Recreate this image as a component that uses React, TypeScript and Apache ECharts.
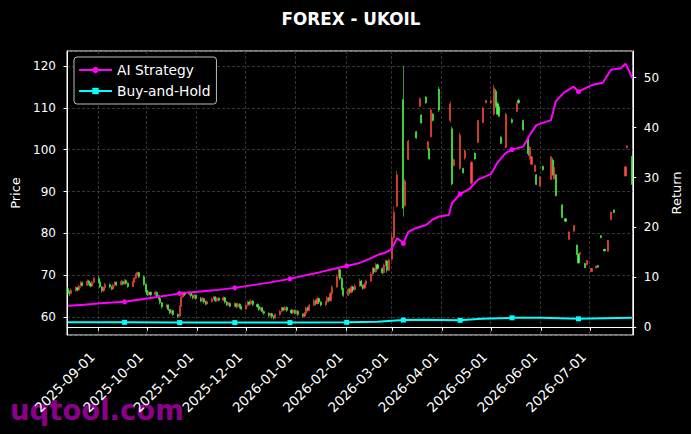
import React, { useEffect, useRef } from "react";
import * as echarts from "echarts";

const START = "2025-08-13";
const DAY_COUNT = 349;
const FONT = "DejaVu Sans";
const UP = "#ff4a3d";
const DOWN = "#4dff4d";

// [date, open, close, low, high]
const candles: [string, number, number, number, number][] = [
  ["2025-08-13", 66.8, 66.0, 65.4, 67.2], ["2025-08-14", 66.0, 65.6, 65.0, 66.4], ["2025-08-15", 65.6, 66.4, 65.3, 66.8],
  ["2025-08-18", 66.3, 67.0, 66.0, 67.4], ["2025-08-19", 67.0, 66.5, 66.1, 67.3], ["2025-08-20", 66.5, 67.4, 66.3, 67.8],
  ["2025-08-21", 67.4, 68.2, 67.0, 68.6], ["2025-08-22", 68.2, 67.6, 67.3, 68.5], ["2025-08-25", 67.6, 68.6, 67.4, 69.0],
  ["2025-08-26", 68.6, 68.0, 67.6, 68.9], ["2025-08-27", 68.0, 67.4, 67.1, 68.3], ["2025-08-28", 67.4, 68.3, 67.2, 68.7],
  ["2025-08-29", 68.3, 69.2, 68.0, 69.6], ["2025-09-01", 69.2, 68.4, 68.1, 69.8], ["2025-09-02", 68.4, 67.2, 66.9, 68.6],
  ["2025-09-03", 67.2, 66.3, 65.8, 67.4], ["2025-09-04", 66.3, 67.0, 66.0, 67.3], ["2025-09-05", 67.0, 67.8, 66.8, 68.2],
  ["2025-09-08", 67.8, 67.2, 66.8, 68.0], ["2025-09-09", 67.2, 66.7, 66.4, 67.5], ["2025-09-10", 66.7, 67.6, 66.5, 68.0],
  ["2025-09-11", 67.6, 68.3, 67.3, 68.6], ["2025-09-12", 68.3, 67.7, 67.4, 68.5], ["2025-09-15", 67.7, 68.5, 67.5, 68.9],
  ["2025-09-16", 68.5, 67.9, 67.6, 68.7], ["2025-09-17", 67.9, 68.7, 67.7, 69.1], ["2025-09-18", 68.7, 68.1, 67.8, 69.0],
  ["2025-09-19", 68.1, 67.3, 67.0, 68.3], ["2025-09-22", 67.3, 68.4, 67.2, 68.7], ["2025-09-23", 68.4, 69.3, 68.2, 69.6],
  ["2025-09-24", 69.3, 70.2, 69.0, 70.5], ["2025-09-25", 70.2, 70.6, 69.8, 70.9], ["2025-09-26", 70.6, 69.6, 69.3, 70.8],
  ["2025-09-29", 69.6, 67.8, 67.5, 69.9], ["2025-09-30", 67.8, 66.2, 65.9, 68.0], ["2025-10-01", 66.2, 65.4, 65.0, 66.5],
  ["2025-10-02", 65.4, 65.9, 65.1, 66.2], ["2025-10-03", 65.9, 65.3, 64.9, 66.1], ["2025-10-06", 65.3, 65.9, 65.0, 66.3],
  ["2025-10-07", 65.9, 65.1, 64.7, 66.1], ["2025-10-08", 65.1, 64.4, 64.0, 65.3], ["2025-10-09", 64.4, 63.4, 63.0, 64.6],
  ["2025-10-10", 63.4, 62.4, 62.0, 63.6], ["2025-10-13", 62.4, 62.9, 62.0, 63.2], ["2025-10-14", 62.9, 61.8, 61.4, 63.0],
  ["2025-10-15", 61.8, 61.0, 60.7, 62.0], ["2025-10-16", 61.0, 61.5, 60.6, 61.8], ["2025-10-17", 61.5, 60.6, 60.3, 61.7],
  ["2025-10-20", 60.6, 60.2, 59.8, 60.9], ["2025-10-21", 60.2, 62.6, 60.0, 62.8], ["2025-10-22", 62.6, 64.8, 62.4, 65.2],
  ["2025-10-23", 64.8, 65.8, 64.6, 66.2], ["2025-10-24", 65.8, 65.4, 65.0, 66.1], ["2025-10-27", 65.4, 65.9, 65.1, 66.2],
  ["2025-10-28", 65.9, 65.1, 64.7, 66.0], ["2025-10-29", 65.1, 64.6, 64.2, 65.4], ["2025-10-30", 64.6, 65.2, 64.3, 65.5],
  ["2025-10-31", 65.2, 64.5, 64.1, 65.4], ["2025-11-03", 64.5, 63.8, 63.5, 64.8], ["2025-11-04", 63.8, 64.4, 63.5, 64.8],
  ["2025-11-05", 64.4, 63.6, 63.2, 64.6], ["2025-11-06", 63.6, 63.1, 62.8, 63.9], ["2025-11-07", 63.1, 63.7, 62.9, 64.0],
  ["2025-11-10", 63.7, 64.3, 63.4, 64.7], ["2025-11-11", 64.3, 64.8, 64.0, 65.1], ["2025-11-12", 64.8, 63.9, 63.6, 65.0],
  ["2025-11-13", 63.9, 64.5, 63.6, 64.8], ["2025-11-14", 64.5, 64.0, 63.7, 64.7], ["2025-11-17", 64.0, 64.6, 63.8, 64.9],
  ["2025-11-18", 64.6, 63.6, 63.2, 64.8], ["2025-11-19", 63.6, 62.9, 62.6, 63.8], ["2025-11-20", 62.9, 63.3, 62.6, 63.6],
  ["2025-11-21", 63.3, 62.6, 62.3, 63.5], ["2025-11-24", 62.6, 63.2, 62.3, 63.5], ["2025-11-25", 63.2, 62.5, 62.1, 63.4],
  ["2025-11-26", 62.5, 63.1, 62.2, 63.4], ["2025-11-27", 63.1, 62.4, 62.0, 63.3], ["2025-11-28", 62.4, 61.9, 61.6, 62.7],
  ["2025-12-01", 61.9, 62.8, 61.7, 63.1], ["2025-12-02", 62.8, 63.6, 62.5, 64.0], ["2025-12-03", 63.6, 63.1, 62.7, 63.9],
  ["2025-12-04", 63.1, 63.8, 62.9, 64.2], ["2025-12-05", 63.8, 63.0, 62.6, 64.0], ["2025-12-08", 63.0, 62.5, 62.1, 63.3],
  ["2025-12-09", 62.5, 61.8, 61.5, 62.7], ["2025-12-10", 61.8, 62.2, 61.4, 62.5], ["2025-12-11", 62.2, 61.3, 60.9, 62.4],
  ["2025-12-12", 61.3, 60.9, 60.5, 61.6], ["2025-12-15", 60.9, 60.4, 60.0, 61.1], ["2025-12-16", 60.4, 60.8, 59.8, 61.0],
  ["2025-12-17", 60.8, 60.1, 59.6, 61.0], ["2025-12-18", 60.1, 59.8, 59.4, 60.4], ["2025-12-19", 59.8, 60.6, 59.5, 60.9],
  ["2025-12-22", 60.6, 61.4, 60.3, 61.7], ["2025-12-23", 61.4, 62.2, 61.1, 62.5], ["2025-12-24", 62.2, 61.7, 61.4, 62.4],
  ["2025-12-25", 61.7, 62.3, 61.5, 62.6], ["2025-12-26", 62.3, 61.6, 61.2, 62.5], ["2025-12-29", 61.6, 61.0, 60.7, 61.9],
  ["2025-12-30", 61.0, 61.6, 60.8, 61.9], ["2025-12-31", 61.6, 60.9, 60.6, 61.8], ["2026-01-01", 60.9, 61.4, 60.6, 61.7],
  ["2026-01-02", 61.4, 60.6, 60.2, 61.6], ["2026-01-05", 60.6, 60.2, 59.9, 60.9], ["2026-01-06", 60.2, 60.9, 60.0, 61.2],
  ["2026-01-07", 60.9, 62.2, 60.7, 62.5], ["2026-01-08", 62.2, 61.6, 61.3, 62.5], ["2026-01-09", 61.6, 62.8, 61.4, 63.1],
  ["2026-01-12", 62.8, 63.9, 62.6, 64.3], ["2026-01-13", 63.9, 63.2, 62.8, 64.2], ["2026-01-14", 63.2, 64.4, 63.0, 64.8],
  ["2026-01-15", 64.4, 63.6, 63.2, 64.6], ["2026-01-16", 63.6, 62.9, 62.5, 63.8], ["2026-01-19", 62.9, 63.6, 62.6, 63.9],
  ["2026-01-20", 63.6, 64.6, 63.4, 65.0], ["2026-01-21", 64.6, 63.9, 63.5, 64.8], ["2026-01-22", 63.9, 65.6, 63.7, 66.0],
  ["2026-01-23", 65.6, 67.2, 65.4, 67.6], ["2026-01-26", 67.2, 69.6, 67.0, 70.2], ["2026-01-27", 69.6, 71.3, 69.3, 71.9],
  ["2026-01-28", 71.3, 69.2, 68.8, 71.5], ["2026-01-29", 69.2, 66.8, 66.4, 69.5], ["2026-01-30", 66.8, 65.2, 64.8, 67.0],
  ["2026-02-02", 65.2, 66.6, 65.0, 67.0], ["2026-02-03", 66.6, 65.9, 65.5, 66.9], ["2026-02-04", 65.9, 67.2, 65.7, 67.6],
  ["2026-02-05", 67.2, 66.5, 66.1, 67.5], ["2026-02-06", 66.5, 67.4, 66.3, 67.8], ["2026-02-09", 67.4, 68.6, 67.2, 69.2],
  ["2026-02-10", 68.6, 67.5, 67.1, 68.9], ["2026-02-11", 67.5, 66.9, 66.5, 67.8], ["2026-02-12", 66.9, 67.8, 66.7, 68.2],
  ["2026-02-13", 67.8, 68.6, 67.5, 68.9], ["2026-02-16", 68.6, 70.3, 68.4, 70.8], ["2026-02-17", 70.3, 71.6, 70.1, 72.0],
  ["2026-02-18", 71.6, 70.8, 70.4, 71.9], ["2026-02-19", 70.8, 72.5, 70.6, 73.0], ["2026-02-20", 72.5, 71.6, 71.2, 72.8],
  ["2026-02-23", 71.6, 70.6, 70.2, 71.9], ["2026-02-24", 70.6, 72.4, 70.4, 72.8], ["2026-02-25", 72.4, 73.4, 72.1, 73.8],
  ["2026-02-26", 73.4, 71.2, 70.6, 73.6], ["2026-02-27", 71.2, 73.6, 71.0, 74.0],
  ["2026-03-01", 73.8, 79.0, 73.5, 80.0], ["2026-03-02", 79.0, 85.0, 78.5, 86.5], ["2026-03-04", 86.5, 94.0, 86.2, 95.0],
  ["2026-03-08", 112.0, 86.0, 84.0, 120.0], ["2026-03-09", 86.6, 92.5, 86.4, 93.0], ["2026-03-11", 97.7, 102.0, 97.5, 102.4],
  ["2026-03-16", 104.3, 102.8, 102.6, 104.5], ["2026-03-18", 110.4, 112.2, 110.2, 112.5], ["2026-03-19", 108.3, 106.4, 106.2, 108.5],
  ["2026-03-22", 112.6, 111.2, 111.0, 112.8], ["2026-03-23", 100.1, 101.9, 99.9, 102.1], ["2026-03-24", 100.2, 97.8, 97.6, 100.3],
  ["2026-03-25", 103.1, 109.5, 102.9, 110.0], ["2026-03-26", 108.5, 107.0, 106.8, 108.8], ["2026-03-30", 114.5, 109.5, 109.0, 115.0],
  ["2026-04-06", 107.0, 111.0, 106.5, 111.5], ["2026-04-07", 105.0, 91.8, 91.5, 105.5], ["2026-04-08", 96.2, 97.6, 96.0, 97.9],
  ["2026-04-12", 95.5, 103.5, 95.2, 104.0], ["2026-04-14", 95.5, 94.5, 94.3, 95.7], ["2026-04-15", 98.0, 99.8, 97.6, 100.0],
  ["2026-04-19", 92.0, 97.0, 91.6, 97.2], ["2026-04-21", 99.2, 97.8, 97.6, 99.3], ["2026-04-23", 101.7, 107.0, 101.6, 107.1],
  ["2026-04-26", 106.5, 110.0, 106.3, 110.3], ["2026-04-28", 111.2, 111.8, 111.1, 111.9], ["2026-05-01", 111.2, 111.7, 111.0, 112.0],
  ["2026-05-03", 108.5, 114.8, 108.2, 115.5], ["2026-05-04", 114.0, 110.5, 110.0, 114.5], ["2026-05-05", 111.0, 108.5, 108.3, 111.5],
  ["2026-05-06", 110.3, 108.0, 107.8, 110.5], ["2026-05-07", 103.0, 101.5, 101.3, 103.2], ["2026-05-10", 100.5, 108.5, 100.3, 108.8],
  ["2026-05-14", 107.2, 106.5, 106.3, 107.5], ["2026-05-17", 109.2, 111.0, 109.0, 111.3], ["2026-05-18", 111.8, 111.2, 111.0, 112.2],
  ["2026-05-21", 107.0, 104.8, 104.5, 107.2], ["2026-05-24", 102.8, 99.0, 98.5, 103.0], ["2026-05-25", 98.0, 100.5, 97.6, 101.0],
  ["2026-05-26", 96.5, 98.3, 96.4, 98.4], ["2026-05-28", 94.8, 96.3, 94.7, 96.4], ["2026-05-29", 94.0, 91.7, 91.6, 94.1],
  ["2026-05-31", 91.3, 93.5, 91.2, 93.6], ["2026-06-02", 96.0, 95.2, 95.0, 96.2], ["2026-06-07", 92.9, 98.3, 92.8, 98.5],
  ["2026-06-08", 97.5, 94.0, 93.8, 98.0], ["2026-06-09", 93.0, 95.8, 92.8, 96.0], ["2026-06-10", 94.0, 89.0, 88.8, 94.2],
  ["2026-06-14", 86.8, 83.8, 83.6, 87.0], ["2026-06-16", 83.5, 82.9, 82.7, 83.7], ["2026-06-18", 78.6, 80.3, 78.4, 80.5],
  ["2026-06-21", 80.5, 81.9, 80.4, 82.0], ["2026-06-23", 77.2, 75.0, 74.8, 77.3], ["2026-06-24", 75.0, 72.9, 72.8, 75.2],
  ["2026-06-25", 75.0, 75.4, 74.9, 75.5], ["2026-06-28", 72.8, 71.8, 71.7, 72.9], ["2026-06-29", 72.5, 73.5, 72.4, 73.6],
  ["2026-07-02", 70.9, 71.6, 70.8, 71.7], ["2026-07-05", 71.7, 72.2, 71.6, 72.3], ["2026-07-06", 72.3, 71.9, 71.8, 72.4],
  ["2026-07-08", 79.4, 79.0, 78.8, 79.6], ["2026-07-10", 76.2, 75.8, 75.7, 76.3], ["2026-07-12", 75.7, 78.3, 75.6, 78.4],
  ["2026-07-14", 83.3, 85.1, 83.2, 85.2], ["2026-07-16", 85.6, 85.0, 84.8, 85.7], ["2026-07-23", 93.7, 95.9, 93.6, 96.0],
  ["2026-07-24", 100.5, 100.9, 100.3, 101.0], ["2026-07-27", 98.3, 91.8, 91.6, 98.5],
];

// cumulative return (%) readings
const aiStrategy: [string, number][] = [
  ["2025-08-13", 4.3], ["2025-08-23", 4.5], ["2025-09-02", 4.8], ["2025-09-17", 5.1], ["2025-10-02", 5.8],
  ["2025-10-12", 6.3], ["2025-10-21", 6.8], ["2025-11-01", 7.1], ["2025-11-11", 7.4], ["2025-11-24", 7.9],
  ["2025-12-06", 8.5], ["2025-12-16", 9.0], ["2025-12-28", 9.7], ["2026-01-05", 10.3], ["2026-01-15", 11.0],
  ["2026-01-25", 11.8], ["2026-02-01", 12.3], ["2026-02-09", 12.9], ["2026-02-15", 13.7], ["2026-02-21", 14.6],
  ["2026-02-25", 15.0], ["2026-02-28", 15.5], ["2026-03-02", 16.5], ["2026-03-04", 17.8], ["2026-03-06", 17.4],
  ["2026-03-08", 16.8], ["2026-03-11", 19.1], ["2026-03-16", 19.9], ["2026-03-22", 20.5], ["2026-03-26", 21.6],
  ["2026-03-30", 22.2], ["2026-04-05", 22.5], ["2026-04-07", 24.9], ["2026-04-12", 26.7], ["2026-04-18", 27.8],
  ["2026-04-23", 29.6], ["2026-04-28", 30.3], ["2026-05-01", 30.7], ["2026-05-05", 33.0], ["2026-05-10", 34.9],
  ["2026-05-14", 35.6], ["2026-05-21", 36.2], ["2026-05-25", 38.6], ["2026-05-29", 40.5], ["2026-06-07", 41.5],
  ["2026-06-10", 45.3], ["2026-06-15", 47.0], ["2026-06-21", 48.2], ["2026-06-24", 47.2], ["2026-06-27", 47.7],
  ["2026-07-03", 48.6], ["2026-07-09", 49.0], ["2026-07-14", 51.6], ["2026-07-20", 51.9], ["2026-07-23", 52.8],
  ["2026-07-25", 51.5], ["2026-07-27", 49.9],
];

const buyAndHold: [string, number][] = [
  ["2025-08-13", 1.0], ["2025-09-17", 1.0], ["2025-10-21", 0.95], ["2025-11-24", 0.95], ["2025-12-28", 0.95],
  ["2026-02-01", 1.0], ["2026-02-20", 1.1], ["2026-03-01", 1.3], ["2026-03-08", 1.45], ["2026-03-20", 1.5],
  ["2026-04-12", 1.4], ["2026-04-25", 1.7], ["2026-05-14", 1.9], ["2026-06-01", 1.9], ["2026-06-24", 1.7],
  ["2026-07-10", 1.8], ["2026-07-27", 1.9],
];

const markerDates = [
  "2025-09-17", "2025-10-21", "2025-11-24", "2025-12-28", "2026-02-01",
  "2026-03-08", "2026-04-12", "2026-05-14", "2026-06-24",
];

function buildDates(): string[] {
  const out: string[] = [];
  const t0 = Date.parse(START + "T00:00:00Z");
  for (let i = 0; i < DAY_COUNT; i++) {
    out.push(new Date(t0 + i * 86400000).toISOString().slice(0, 10));
  }
  return out;
}

export default function App() {
  const ref = useRef<HTMLDivElement>(null);
  useEffect(() => {
    document.body.style.margin = "0";
    document.body.style.background = "#000";
    if (!ref.current) return;
    const chart = echarts.init(ref.current, undefined, { renderer: "svg" });
    const dates = buildDates();
    const cMap = new Map(candles.map((c) => [c[0], [c[1], c[2], c[3], c[4]]]));
    const aiMap = new Map(aiStrategy);
    const bhMap = new Map(buyAndHold);
    const markers = new Set(markerDates);
    const candleData = dates.map((d) => cMap.get(d) ?? "-");
    const aiData = dates.map((d) => (aiMap.has(d) ? aiMap.get(d) : null));
    const bhData = dates.map((d) => (bhMap.has(d) ? bhMap.get(d) : null));
    const monthStart = (_i: number, v: string) => v.endsWith("-01");
    const markSize = (_v: any, p: any) => (markers.has(dates[p.dataIndex]) ? 5 : 0);
    const gridLine = { color: "#4a4a4a", width: 0.7, type: [3, 2] };

    chart.setOption({
      animation: false,
      backgroundColor: "#000",
      textStyle: { fontFamily: FONT },
      title: {
        text: "FOREX - UKOIL",
        left: 351,
        top: 10,
        padding: 0,
        textAlign: "center",
        textStyle: { color: "#fff", fontSize: 16.8, fontWeight: "bold", fontFamily: FONT },
      },
      legend: {
        data: ["AI Strategy", "Buy-and-Hold"],
        orient: "vertical",
        left: 74,
        top: 57,
        padding: [6, 6, 6, 4],
        itemGap: 7,
        itemWidth: 33,
        itemHeight: 8,
        backgroundColor: "#000",
        borderColor: "#bbbbbb",
        borderWidth: 1,
        borderRadius: 3,
        textStyle: { color: "#fff", fontSize: 13.8, fontFamily: FONT },
      },
      grid: { left: 67, right: 57, top: 51, bottom: 99, show: true, borderColor: "#fff", borderWidth: 1 },
      xAxis: {
        type: "category",
        data: dates,
        boundaryGap: true,
        axisLine: { lineStyle: { color: "#fff", width: 1 } },
        axisTick: { show: true, alignWithLabel: true, interval: monthStart, length: 3.5, lineStyle: { color: "#fff" } },
        axisLabel: {
          interval: monthStart, rotate: 45, color: "#fff", fontSize: 13.5, fontFamily: FONT,
          margin: 13, padding: [0, 9, 0, 0],
        },
        splitLine: { show: true, interval: monthStart, lineStyle: gridLine },
      },
      yAxis: [
        {
          type: "value",
          min: 55.7,
          max: 123.6,
          splitNumber: 6,
          name: "Price",
          nameLocation: "middle",
          nameGap: 38,
          nameTextStyle: { color: "#fff", fontSize: 13, fontFamily: FONT },
          axisLine: { show: true, lineStyle: { color: "#fff" } },
          axisTick: { show: true, length: 3.5, lineStyle: { color: "#fff" } },
          axisLabel: {
            color: "#fff", fontSize: 12, fontFamily: FONT, margin: 11, showMinLabel: false, showMaxLabel: false,
            formatter: (v: number) => (Math.abs(v % 10) < 1e-6 ? String(v) : ""),
          },
          splitLine: { show: true, lineStyle: gridLine },
        },
        {
          type: "value",
          min: -1.54,
          max: 55.35,
          splitNumber: 5,
          name: "Return",
          nameLocation: "middle",
          nameGap: 23,
          nameTextStyle: { color: "#fff", fontSize: 13, fontFamily: FONT },
          axisLine: { show: true, lineStyle: { color: "#fff" } },
          axisTick: { show: true, length: 3.5, lineStyle: { color: "#fff" } },
          axisLabel: {
            color: "#fff", fontSize: 12, fontFamily: FONT, margin: 11, showMinLabel: false, showMaxLabel: false,
            formatter: (v: number) => (Math.abs(v % 10) < 1e-6 ? String(v) : ""),
          },
          splitLine: { show: false },
        },
      ],
      series: [
        {
          type: "candlestick",
          name: "UKOIL",
          yAxisIndex: 0,
          data: candleData,
          barWidth: 1.6,
          itemStyle: { color: UP, color0: DOWN, borderColor: UP, borderColor0: DOWN, borderWidth: 0.6 },
          z: 2,
        },
        {
          type: "line",
          name: "AI Strategy",
          yAxisIndex: 1,
          data: aiData,
          connectNulls: true,
          showSymbol: true,
          showAllSymbol: true,
          symbol: "circle",
          symbolSize: markSize,
          lineStyle: { color: "#ff00ff", width: 2 },
          itemStyle: { color: "#ff00ff" },
          z: 5,
        },
        {
          type: "line",
          name: "Buy-and-Hold",
          yAxisIndex: 1,
          data: bhData,
          connectNulls: true,
          showSymbol: true,
          showAllSymbol: true,
          symbol: "rect",
          symbolSize: markSize,
          lineStyle: { color: "#00ffff", width: 2 },
          itemStyle: { color: "#00ffff" },
          z: 5,
        },
      ],
      graphic: [
        {
          type: "text",
          left: 10,
          top: 396,
          z: -1,
          style: { text: "uqtool.com", fill: "#8b008b", font: `bold 27.5px ${FONT}` },
        },
      ],
    });
    return () => chart.dispose();
  }, []);
  return <div ref={ref} style={{ position: "fixed", left: 0, top: 0, width: 691, height: 434 }} />;
}
